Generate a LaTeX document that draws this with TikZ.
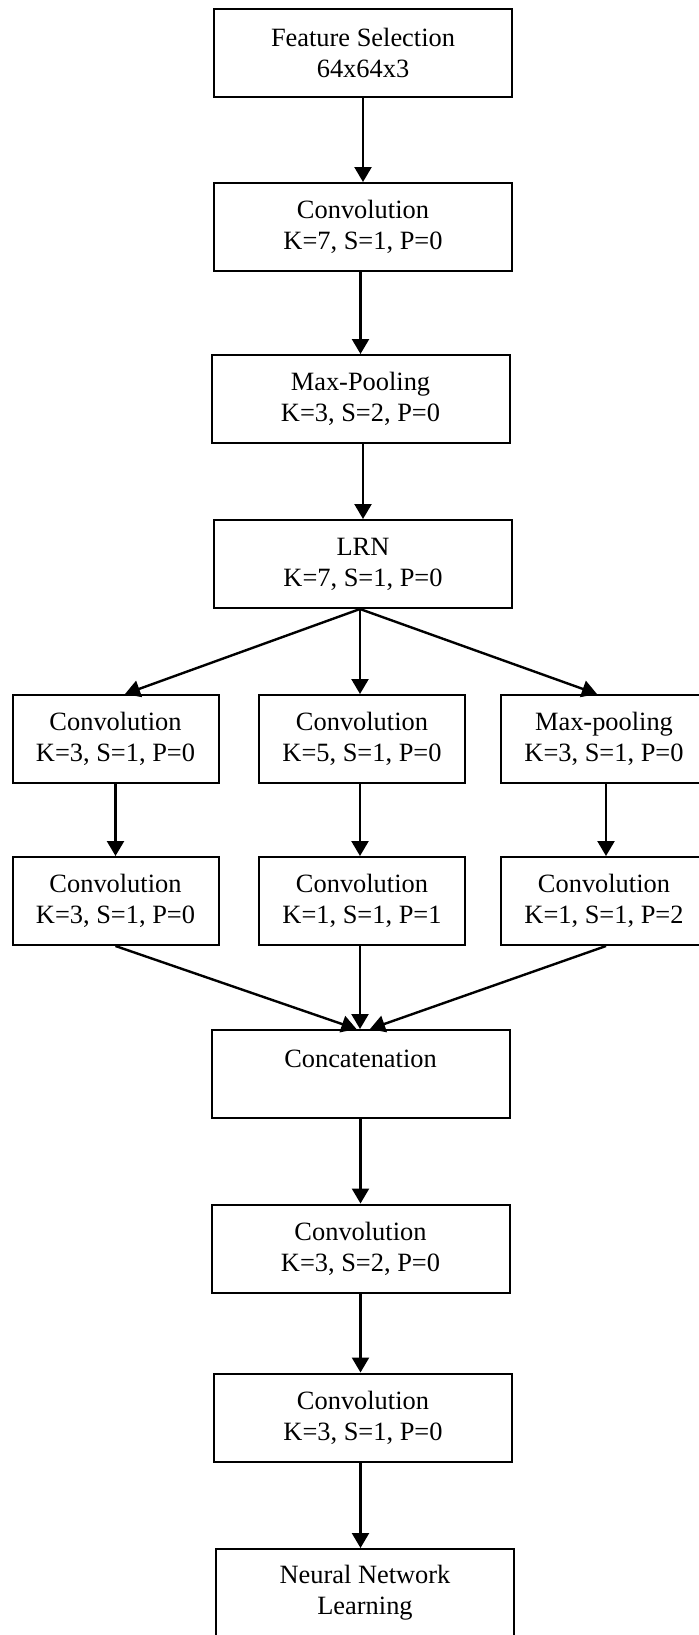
\documentclass[tikz,border=0pt]{standalone}
\usepackage{fontspec}
\setmainfont{Liberation Serif}
\usetikzlibrary{arrows.meta}
\begin{document}
\begin{tikzpicture}[x=0.5pt,y=-0.5pt,
  box/.style={draw=black,line width=1pt,fill=white,align=center,inner sep=0pt,
    minimum width=149pt,minimum height=44pt,font=\fontsize{13.2}{15.5}\selectfont},
  sbox/.style={box,minimum width=103pt},
  arr/.style={line width=1.2pt,-{Triangle[length=7.5pt,width=8.5pt]}}]
\useasboundingbox (0,0) rectangle (699,1635);
\clip (0,0) rectangle (699,1635);
\node[box] (b1) at (363,52.5) {Feature Selection\\64x64x3};
\node[box] (b2) at (363,227) {Convolution\\K=7, S=1, P=0};
\node[box] (b3) at (360.5,399) {Max-Pooling\\K=3, S=2, P=0};
\node[box] (b4) at (363,564) {LRN\\K=7, S=1, P=0};
\node[sbox] (l1) at (115.5,739) {Convolution\\K=3, S=1, P=0};
\node[sbox] (m1) at (362,739) {Convolution\\K=5, S=1, P=0};
\node[sbox] (r1) at (604,739) {Max-pooling\\K=3, S=1, P=0};
\node[sbox] (l2) at (115.5,901) {Convolution\\K=3, S=1, P=0};
\node[sbox] (m2) at (362,901) {Convolution\\K=1, S=1, P=1};
\node[sbox] (r2) at (604,901) {Convolution\\K=1, S=1, P=2};
\node[box] (cc) at (360.5,1074) {Concatenation\\~};
\node[box] (c5) at (360.5,1248.5) {Convolution\\K=3, S=2, P=0};
\node[box] (c6) at (363,1417.5) {Convolution\\K=3, S=1, P=0};
\node[box] (nn) at (365,1593) {Neural Network\\Learning};
\draw[arr] (b1.south) -- (b2.north);
\draw[arr] (b3.north |- b2.south) -- (b3.north);
\draw[arr] (b3.south -| b4.north) -- (b4.north);
\coordinate (lrn) at ([xshift=-1.5pt]b4.south);
\draw[arr] (lrn) -- ([xshift=4.75pt]l1.north);
\draw[arr] (lrn) -- (lrn |- m1.north);
\draw[arr] (lrn) -- ([xshift=-3.5pt]r1.north);
\draw[arr] (l1.south) -- (l2.north);
\draw[arr] ([xshift=-1pt]m1.south) -- ([xshift=-1pt]m2.north);
\draw[arr] ([xshift=1pt]r1.south) -- ([xshift=1pt]r2.north);
\draw[arr] (l2.south) -- ([xshift=-2pt]cc.north);
\draw[arr] ([xshift=-1pt]m2.south) -- ([xshift=-0.25pt]cc.north);
\draw[arr] ([xshift=1pt]r2.south) -- ([xshift=4.75pt]cc.north);
\draw[arr] (cc.south) -- (c5.north);
\draw[arr] (c5.south) -- (c5.south |- c6.north);
\draw[arr] (c5.south |- c6.south) -- (c5.south |- nn.north);
\end{tikzpicture}
\end{document}
